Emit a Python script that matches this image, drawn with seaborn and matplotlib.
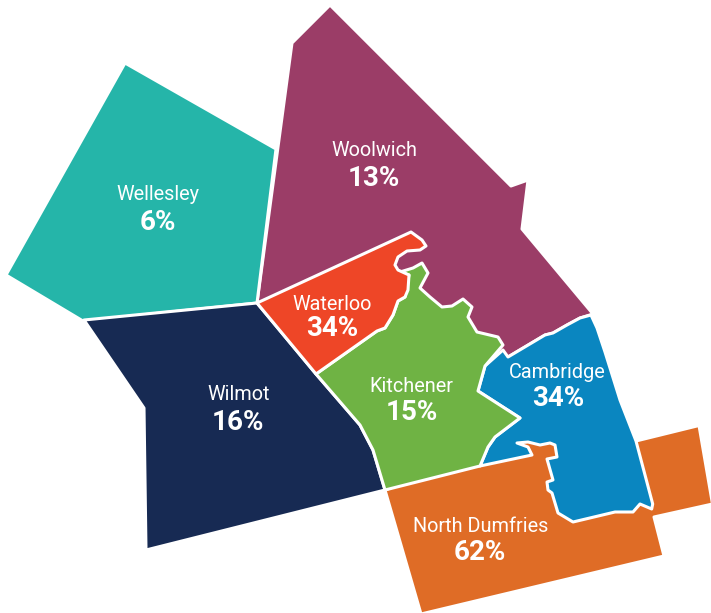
import matplotlib
matplotlib.use("Agg")
import matplotlib.pyplot as plt
import seaborn as sns

# Data
regions = ["Woolwich", "Wellesley", "Wilmot", "North Dumfries", "Cambridge", "Kitchener", "Waterloo"]
percents = ["13%", "6%", "16%", "62%", "34%", "15%", "34%"]
colours = ["#9B3D67", "#25B5A9", "#172A53", "#DF6C26", "#0A86C0", "#6FB344", "#EE4627"]

woolwich_shape = [(330, 5), (292, 43), (257, 303), (316, 374), (508, 357), (545, 335), (553, 333),
                  (567, 325), (580, 318), (593, 314), (522, 229), (528, 180), (511, 186)]
wellesley_shape = [(125, 63), (276, 149), (257, 303), (83, 321), (6, 275)]
wilmot_shape = [(84, 320), (257, 303), (316, 374), (360, 425), (373, 450), (385, 490), (146, 550), (144, 408)]
dumfries_shape = [(385, 490), (510, 445), (550, 435), (636, 441), (699, 425.5), (712.5, 504), (654, 517),
                  (664, 556), (421, 614)]
cambridge_shape = [(591, 315), (597, 328), (605, 352), (620, 400), (636, 441), (652.7, 504), (651.7, 509), (640, 504),
                   (633, 512), (615, 512), (573, 522), (558, 513), (552, 493), (548, 490), (547, 482),
                   (553, 480), (547, 459), (557, 457), (555, 445), (550, 443), (540, 445), (528, 442),
                   (517, 443), (528, 447), (532, 455), (480, 466), (488, 447), (495, 437), (520, 418),
                   (478, 391), (485, 366), (503, 350), (508, 357), (545, 335), (553, 333), (567, 325), (580, 318)]
kitchener_shape = [(316, 374), (377, 331), (385, 328), (393, 315), (398, 301), (405, 297), (409, 275),
                   (400, 272), (413, 268), (422, 263), (428, 273), (420, 288), (430, 297), (442, 307),
                   (452, 306), (463, 299), (472, 307), (468, 317), (477, 332), (498, 337), (503, 345),
                   (485, 366), (478, 391), (520, 418), (495, 437), (488, 447), (480, 466), (385, 490),
                   (373, 450), (360, 425)]
waterloo_shape = [(257, 303), (411, 232), (422, 240), (426, 246), (420, 250), (407, 251), (398, 257),
                  (395, 265), (398, 270), (409, 275), (408, 290), (405, 297), (398, 301), (393, 315),
                  (385, 328), (377, 331), (316, 374)]
shapes = [woolwich_shape, wellesley_shape, wilmot_shape, dumfries_shape, cambridge_shape, kitchener_shape, waterloo_shape]

name_xy = [(374, 151), (158, 195), (239, 395), (481, 526), (557, 373), (411, 387), (332, 304)]
pct_xy = [(374, 179), (158, 223), (238, 423), (480, 552), (558, 398), (412, 413), (332, 328)]

sns.set_theme(style="white")
plt.rcParams["font.family"] = ["Roboto", "DejaVu Sans"]
palette = sns.color_palette(colours)

fig = plt.figure(figsize=(7.11, 6.13), dpi=100)
ax = fig.add_axes([0, 0, 1, 1])
ax.set_xlim(0, 711)
ax.set_ylim(613, 0)
ax.axis("off")

for shape, colour in zip(shapes, palette):
    xs, ys = zip(*shape)
    ax.fill(xs, ys, facecolor=colour, edgecolor="white", linewidth=2.2, joinstyle="round")

for name, pct, nxy, pxy in zip(regions, percents, name_xy, pct_xy):
    ax.text(*nxy, name, color="white", fontsize=14.3, ha="center", va="center")
    ax.text(*pxy, pct, color="white", fontsize=20, fontweight="bold", ha="center", va="center")

fig.savefig("out.png", dpi=100)
